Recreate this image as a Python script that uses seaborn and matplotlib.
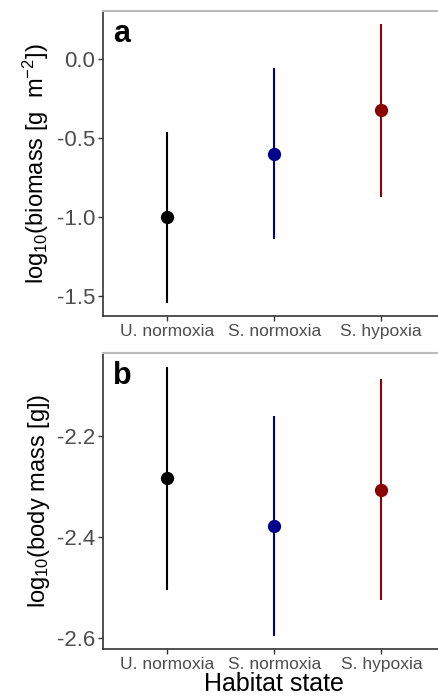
import matplotlib
matplotlib.use("Agg")
import matplotlib.pyplot as plt
import seaborn as sns
import pandas as pd

categories = ["U. normoxia", "S. normoxia", "S. hypoxia"]
colors = ["#000000", "#00008B", "#8B0000"]

biomass_mean = [-1.000, -0.600, -0.326]
biomass_lo = [-1.540, -1.139, -0.872]
biomass_hi = [-0.465, -0.061, 0.219]

bodymass_mean = [-2.283, -2.378, -2.307]
bodymass_lo = [-2.505, -2.595, -2.524]
bodymass_hi = [-2.064, -2.161, -2.088]

sns.set_theme(style="ticks")
plt.rcParams["font.family"] = ["Liberation Sans", "DejaVu Sans"]
plt.rcParams["mathtext.fontset"] = "custom"
plt.rcParams["mathtext.rm"] = "Liberation Sans"
plt.rcParams["mathtext.it"] = "Liberation Sans:italic"
plt.rcParams["mathtext.bf"] = "Liberation Sans:bold"

fig = plt.figure(figsize=(4.39, 6.99), dpi=100)
ax_a = fig.add_axes([0.234, 0.548, 0.781, 0.436])
ax_b = fig.add_axes([0.235, 0.0711, 0.780, 0.4235])


def panel(ax, mean, lo, hi, ylim, yticks, yticklabels, ylabel, letter, xlabel):
    df = pd.DataFrame({"state": categories, "value": mean, "lo": lo, "hi": hi})
    for i, row in df.iterrows():
        ax.vlines(i, row["lo"], row["hi"], color=colors[i], lw=1.5, zorder=2)
    sns.pointplot(data=df, x="state", y="value", hue="state", palette=colors,
                  order=categories, hue_order=categories, linestyle="none",
                  errorbar=None, markers="o", markersize=7.5, legend=False,
                  ax=ax, zorder=3)
    ax.set_xlim(-0.6, 2.6)
    ax.set_ylim(*ylim)
    ax.set_yticks(yticks)
    ax.set_yticklabels(yticklabels, fontsize=16, color="#4D4D4D")
    ax.tick_params(axis="x", labelsize=12.5, labelcolor="#4D4D4D")
    ax.tick_params(axis="both", length=3.5, width=1, color="#333333", pad=2)
    ax.set_ylabel(ylabel, fontsize=17, color="black", labelpad=4)
    ax.set_xlabel(xlabel, fontsize=18, color="black", labelpad=0)
    for s in ["left", "bottom"]:
        ax.spines[s].set_color("#333333")
        ax.spines[s].set_linewidth(1.2)
    ax.spines["top"].set_color("#BBBBBB")
    ax.spines["top"].set_linewidth(1.5)
    ax.spines["right"].set_visible(False)
    ax.text(0.03, 0.975, letter, transform=ax.transAxes, fontsize=22,
            fontweight="bold", va="top", ha="left", color="black")


panel(ax_a, biomass_mean, biomass_lo, biomass_hi, (-1.624, 0.301),
      [0.0, -0.5, -1.0, -1.5], ["0.0", "-0.5", "-1.0", "-1.5"],
      r"log$_{10}$(biomass [g  m$^{-2}$])", "a", "")
panel(ax_b, bodymass_mean, bodymass_lo, bodymass_hi, (-2.622, -2.037),
      [-2.2, -2.4, -2.6], ["-2.2", "-2.4", "-2.6"],
      r"log$_{10}$(body mass [g])", "b", "Habitat state")

fig.savefig("out.png", dpi=100)
